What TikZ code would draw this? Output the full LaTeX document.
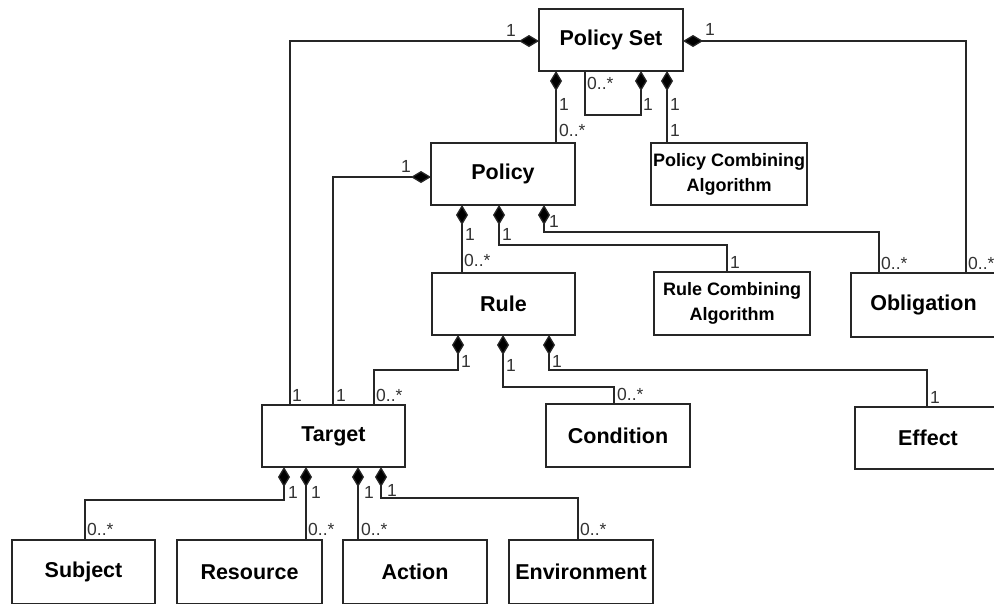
\documentclass[tikz,border=0pt]{standalone}
\usepackage{fontspec}
\setmainfont{Liberation Sans}
\usetikzlibrary{arrows.meta}
\begin{document}
\begin{tikzpicture}[x=1pt,y=-1pt,
  box/.style={draw=black!85, line width=1.4pt, anchor=north west, inner sep=0pt, outer sep=0pt,
    minimum height=62pt, align=center, font=\bfseries\fontsize{21.5}{24}\selectfont},
  smallbox/.style={box, font=\bfseries\fontsize{18}{25}\selectfont},
  comp/.style={draw=black!85, line width=1.3pt, {Diamond[length=20pt,width=12pt,fill=black]}-},
  mult/.style={anchor=west, inner sep=0pt, text=black!80, font=\fontsize{17.5}{17.5}\selectfont}]
\useasboundingbox (0,0) rectangle (994,603);
\fill[white] (0,0) rectangle (994,603);
% boxes
\node[box, minimum width=144pt] (ps) at (539,9) {Policy Set};
\node[box, minimum width=144pt] (pol) at (431,143) {Policy};
\node[smallbox, minimum width=156pt] (pca) at (651,143) {Policy Combining\\Algorithm};
\node[box, minimum width=143pt] (rule) at (432,273) {Rule};
\node[smallbox, minimum width=156pt, minimum height=63pt] (rca) at (654,272) {Rule Combining\\Algorithm};
\node[box, minimum width=145pt, minimum height=64pt] (obl) at (851,273) {Obligation};
\node[box, minimum width=143pt] (tg) at (262,405) {Target};
\node[box, minimum width=144pt, minimum height=63pt] (cond) at (546,404) {Condition};
\node[box, minimum width=146pt] (eff) at (855,407) {Effect};
\node[box, minimum width=143pt, minimum height=64pt] (subj) at (12,540) {Subject};
\node[box, minimum width=145pt, minimum height=64pt] (res) at (177,540) {Resource};
\node[box, minimum width=144pt, minimum height=64pt] (act) at (343,540) {Action};
\node[box, minimum width=144pt, minimum height=64pt] (env) at (509,540) {Environment};
% connectors
\draw[comp] (ps.west |- 0,41) -- (290,41) -- (290,0 |- tg.north);
\node[mult] (m1a) at (506,30) {1};
\node[mult] (m1b) at (292,395) {1};
\draw[comp] (ps.east |- 0,41) -- (966,41) -- (966,0 |- obl.north);
\node[mult] (m2a) at (705,29) {1};
\node[mult] (m2b) at (968,263) {0..*};
\draw[comp] (556,0 |- ps.south) -- (556,0 |- pol.north);
\node[mult] (m3a) at (559,104) {1};
\node[mult] (m3b) at (559,130) {0..*};
\draw[comp] (641,0 |- ps.south) -- (641,115) -- (585,115) -- (585,0 |- ps.south);
\node[mult] (m4a) at (587,83) {0..*};
\node[mult] (m4b) at (643,104) {1};
\draw[comp] (667,0 |- ps.south) -- (667,0 |- pca.north);
\node[mult] (m5a) at (670,104) {1};
\node[mult] (m5b) at (670,130) {1};
\draw[comp] (pol.west |- 0,177) -- (333,177) -- (333,0 |- tg.north);
\node[mult] (m6a) at (401,166) {1};
\node[mult] (m6b) at (336,395) {1};
\draw[comp] (462,0 |- pol.south) -- (462,0 |- rule.north);
\node[mult] (m7a) at (465,234) {1};
\node[mult] (m7b) at (464,260) {0..*};
\draw[comp] (499,0 |- pol.south) -- (499,245) -- (727,245) -- (727,0 |- rca.north);
\node[mult] (m8a) at (502,234) {1};
\node[mult] (m8b) at (730,262) {1};
\draw[comp] (544,0 |- pol.south) -- (544,232) -- (879,232) -- (879,0 |- obl.north);
\node[mult] (m9a) at (549,221) {1};
\node[mult] (m9b) at (881,263) {0..*};
\draw[comp] (458,0 |- rule.south) -- (458,370) -- (374,370) -- (374,0 |- tg.north);
\node[mult] (m10a) at (461,361) {1};
\node[mult] (m10b) at (376,395) {0..*};
\draw[comp] (503,0 |- rule.south) -- (503,387) -- (614,387) -- (614,0 |- cond.north);
\node[mult] (m11a) at (506,365) {1};
\node[mult] (m11b) at (617,394) {0..*};
\draw[comp] (549,0 |- rule.south) -- (549,370) -- (927,370) -- (927,0 |- eff.north);
\node[mult] (m12a) at (552,361) {1};
\node[mult] (m12b) at (930,397) {1};
\draw[comp] (284,0 |- tg.south) -- (284,500) -- (85,500) -- (85,0 |- subj.north);
\node[mult] (m13a) at (288,492) {1};
\node[mult] (m13b) at (87,529) {0..*};
\draw[comp] (306,0 |- tg.south) -- (306,0 |- res.north);
\node[mult] (m14a) at (311,492) {1};
\node[mult] (m14b) at (308,529) {0..*};
\draw[comp] (358,0 |- tg.south) -- (358,0 |- act.north);
\node[mult] (m15a) at (364,492) {1};
\node[mult] (m15b) at (361,529) {0..*};
\draw[comp] (381,0 |- tg.south) -- (381,498) -- (578,498) -- (578,0 |- env.north);
\node[mult] (m16a) at (387,490) {1};
\node[mult] (m16b) at (580,529) {0..*};
\end{tikzpicture}
\end{document}
